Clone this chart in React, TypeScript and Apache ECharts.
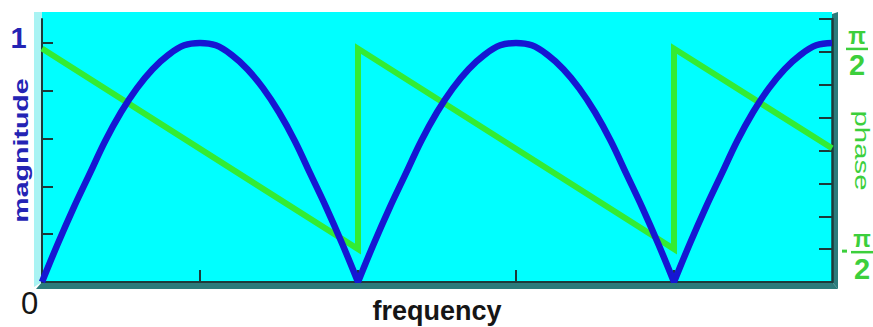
import React, { useEffect, useRef } from "react";
import * as echarts from "echarts";

// frequency samples (x axis, in periods) and magnitude
const freq = [
  0, 0.05, 0.1, 0.15, 0.2, 0.25, 0.3, 0.35, 0.4, 0.45, 0.5, 0.55, 0.6, 0.65, 0.7, 0.75, 0.8, 0.85, 0.9, 0.95,
  1, 1.05, 1.1, 1.15, 1.2, 1.25, 1.3, 1.35, 1.4, 1.45, 1.5, 1.55, 1.6, 1.65, 1.7, 1.75, 1.8, 1.85, 1.9, 1.95,
  2, 2.05, 2.1, 2.15, 2.2, 2.25, 2.3, 2.35, 2.4, 2.45, 2.5,
];
const magnitude = [
  0, 0.16, 0.31, 0.45, 0.59, 0.71, 0.81, 0.89, 0.95, 0.99, 1.0, 0.99, 0.95, 0.89, 0.81, 0.71, 0.59, 0.45, 0.31, 0.16,
  0, 0.16, 0.31, 0.45, 0.59, 0.71, 0.81, 0.89, 0.95, 0.99, 1.0, 0.99, 0.95, 0.89, 0.81, 0.71, 0.59, 0.45, 0.31, 0.16,
  0, 0.16, 0.31, 0.45, 0.59, 0.71, 0.81, 0.89, 0.95, 0.99, 1.0,
];
// phase (degrees) sawtooth
const phaseFreq = [0, 1, 1, 2, 2, 2.5];
const phaseDeg = [93, -90, 93, -90, 93, 2];

const freqTicks = [0.5, 1, 1.5, 2];
const magTicks = [0.2, 0.4, 0.6, 0.8, 1];
const phaseTicks = [-90, -60, -30, 0, 30, 60, 90, 120];

const BLUE_LINE = "#1616d2";
const BLUE_TEXT = "#2424b4";
const GREEN_LINE = "#33ec33";
const GREEN_TEXT = "#3ccf3c";
const AXIS = "#1c3a3a";
const FONT = "Liberation Sans, Arial, sans-serif";

// split the magnitude curve into lobes at its zeros so each V stays sharp when smoothed
function magnitudeData() {
  const out: any[] = [];
  freq.forEach((f, i) => {
    out.push([f, magnitude[i]]);
    if (magnitude[i] === 0 && i > 0 && i < freq.length - 1) {
      out.push(["-", "-"]);
      out.push([f, magnitude[i]]);
    }
  });
  return out;
}

export default function App() {
  const ref = useRef<HTMLDivElement>(null);
  useEffect(() => {
    const el = ref.current!;
    const chart = echarts.init(el, null, { renderer: "svg" });
    const option: any = {
      animation: false,
      backgroundColor: "#ffffff",
      grid: { left: 42, right: 41, top: 19, bottom: 45, show: false, outerBoundsMode: "none" },
      xAxis: {
        type: "value",
        min: 0,
        max: 2.5,
        interval: 0.5,
        axisLine: { show: true, onZero: false, lineStyle: { color: AXIS, width: 2 } },
        axisTick: { show: true, inside: true, length: 12, customValues: freqTicks, lineStyle: { color: AXIS, width: 2 } },
        axisLabel: {
          show: true,
          customValues: [0],
          formatter: (v: number) => (Math.abs(v) < 1e-9 ? "0" : ""),
          fontSize: 31,
          color: "#151515",
          fontFamily: FONT,
          margin: 21,
          verticalAlign: "middle",
          align: "center",
          padding: [0, 25, 0, 0],
        },
        splitLine: { show: false },
      },
      yAxis: [
        {
          type: "value",
          position: "left",
          min: 0,
          max: 1.1,
          interval: 0.2,
          axisLine: { show: true, onZero: false, lineStyle: { color: AXIS, width: 2 } },
          axisTick: { show: true, inside: true, length: 11, customValues: magTicks, lineStyle: { color: AXIS, width: 2 } },
          axisLabel: { show: false },
          splitLine: { show: false },
        },
        {
          type: "value",
          position: "right",
          min: -120,
          max: 120,
          interval: 30,
          axisLine: { show: true, onZero: false, lineStyle: { color: AXIS, width: 2.5 } },
          axisTick: { show: true, inside: true, length: 13, customValues: phaseTicks, lineStyle: { color: AXIS, width: 2 } },
          axisLabel: { show: false },
          splitLine: { show: false },
        },
      ],
      series: [
        {
          name: "phase",
          type: "line",
          yAxisIndex: 1,
          data: phaseFreq.map((f, i) => [f, phaseDeg[i]]),
          showSymbol: false,
          symbol: "none",
          clip: false,
          lineStyle: { color: GREEN_LINE, width: 6, join: "miter" },
          z: 3,
        },
        {
          name: "magnitude",
          type: "line",
          yAxisIndex: 0,
          data: magnitudeData(),
          connectNulls: false,
          smooth: 0.4,
          showSymbol: false,
          symbol: "none",
          clip: false,
          lineStyle: { color: BLUE_LINE, width: 6.5, join: "round" },
          z: 4,
        },
      ],
    };
    chart.setOption(option);

    const [L, B] = chart.convertToPixel({ xAxisIndex: 0, yAxisIndex: 0 }, [0, 0]) as number[];
    const [R, T] = chart.convertToPixel({ xAxisIndex: 0, yAxisIndex: 0 }, [2.5, 1.1]) as number[];
    const yOne = chart.convertToPixel({ yAxisIndex: 0 }, 1) as unknown as number;
    const yP = chart.convertToPixel({ yAxisIndex: 1 }, 90) as unknown as number;
    const yM = chart.convertToPixel({ yAxisIndex: 1 }, -90) as unknown as number;
    const midY = (T + B) / 2;

    const fraction = (bar: number, cx: number, neg: boolean) => {
      const els: any[] = [
        {
          type: "text",
          z: 20,
          x: cx,
          y: bar - 26,
          style: {
            text: "{p|π}\n{t|2}",
            fontFamily: FONT,
            fontWeight: "bold",
            fill: GREEN_TEXT,
            align: "center",
            verticalAlign: "top",
            rich: {
              p: { fontSize: 23, lineHeight: 26, fontWeight: "bold", fontFamily: FONT, fill: GREEN_TEXT, align: "center" },
              t: { fontSize: 29, lineHeight: 33, fontWeight: "bold", fontFamily: FONT, fill: GREEN_TEXT, align: "center" },
            },
          },
        },
        {
          type: "rect",
          z: 20,
          shape: { x: cx - 11, y: bar - 1.2, width: 22, height: 2.5 },
          style: { fill: GREEN_TEXT },
        },
      ];
      if (neg) {
        els.push({
          type: "rect",
          z: 20,
          shape: { x: cx - 20, y: bar - 2.5, width: 5, height: 3 },
          style: { fill: GREEN_TEXT },
        });
      }
      return els;
    };

    chart.setOption({
      graphic: [
        {
          type: "rect",
          z: -10,
          shape: { x: L, y: T - 7, width: R - L, height: B - (T - 7) },
          style: { fill: "#00ffff" },
          silent: true,
        },
        {
          type: "polygon",
          z: -10,
          shape: { points: [[L - 8, T - 7], [L, T - 7], [L, B], [L - 8, B + 5]] },
          style: { fill: "#a9f3f3" },
          silent: true,
        },
        {
          type: "polygon",
          z: -9,
          shape: { points: [[L, B], [R, B], [R + 6, B + 7], [L - 6, B + 7]] },
          style: { fill: "#2b7b7b" },
          silent: true,
        },
        {
          type: "polygon",
          z: -9,
          shape: { points: [[R, T - 5], [R + 6, T - 7], [R + 6, B + 7], [R, B]] },
          style: { fill: "#2b7b7b" },
          silent: true,
        },
        {
          type: "text",
          z: 20,
          x: 18.5,
          y: yOne - 5,
          style: { text: "1", fontSize: 29, fontWeight: "bold", fontFamily: FONT, fill: BLUE_TEXT, align: "center", verticalAlign: "middle" },
        },
        {
          type: "text",
          z: 20,
          x: 20,
          y: midY,
          rotation: Math.PI / 2,
          scaleX: 1.36,
          style: { text: "magnitude", fontSize: 21, fontWeight: "bold", fontFamily: FONT, fill: BLUE_TEXT, align: "center", verticalAlign: "middle" },
        },
        {
          type: "text",
          z: 20,
          x: 862,
          y: midY,
          rotation: -Math.PI / 2,
          scaleX: 1.4,
          style: { text: "phase", fontSize: 21, fontFamily: FONT, fill: GREEN_TEXT, align: "center", verticalAlign: "middle" },
        },
        {
          type: "text",
          z: 20,
          x: (L + R) / 2,
          y: 310.5,
          style: { text: "frequency", fontSize: 27, fontWeight: "bold", fontFamily: FONT, fill: "#151515", align: "center", verticalAlign: "middle" },
        },
        ...fraction(yP - 3, R + 25, false),
        ...fraction(yM + 3, R + 30, true),
      ],
    });

    return () => chart.dispose();
  }, []);

  return (
    <div
      ref={ref}
      style={{ position: "fixed", left: 0, top: 0, width: 873, height: 327, background: "#ffffff" }}
    />
  );
}
